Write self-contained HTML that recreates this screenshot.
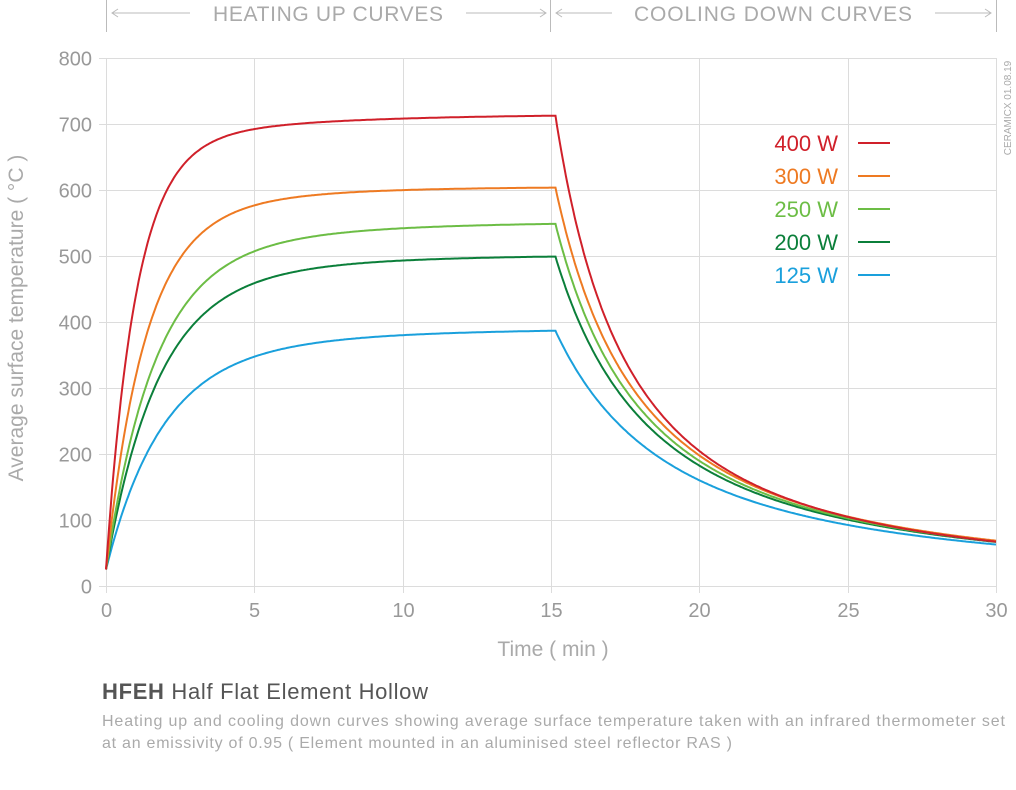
<!DOCTYPE html>
<html><head><meta charset="utf-8"><style>
body{margin:0;background:#fff;width:1016px;height:785px;overflow:hidden;font-family:"Liberation Sans",sans-serif}
svg text{font-family:"Liberation Sans",sans-serif}
</style></head><body>
<svg id="s" width="1016" height="785" xmlns="http://www.w3.org/2000/svg">
<g stroke="#bbb" stroke-width="1" fill="none">
<line x1="106.5" y1="0" x2="106.5" y2="32"/><line x1="550.5" y1="0" x2="550.5" y2="32"/><line x1="996.5" y1="0" x2="996.5" y2="32"/>
<line x1="112" y1="13" x2="190" y2="13"/><polyline points="118,9 112,13 118,17"/>
<line x1="466" y1="13" x2="546" y2="13"/><polyline points="540,9 546,13 540,17"/>
<line x1="556" y1="13" x2="612" y2="13"/><polyline points="562,9 556,13 562,17"/>
<line x1="935" y1="13" x2="991" y2="13"/><polyline points="985,9 991,13 985,17"/>
</g>
<text x="328" y="21" font-size="21" fill="#aaa" text-anchor="middle" textLength="230">HEATING UP CURVES</text>
<text x="773" y="21" font-size="21" fill="#aaa" text-anchor="middle" textLength="278">COOLING DOWN CURVES</text>
<g id="grid" stroke="#dcdcdc" stroke-width="1"></g>
<g id="lab" font-size="20" fill="#999"></g>
<text transform="translate(23,318) rotate(-90)" font-size="21" fill="#aaa" text-anchor="middle">Average surface temperature ( °C )</text>
<text x="553" y="656" font-size="21" fill="#aaa" text-anchor="middle">Time ( min )</text>
<text transform="translate(1011,108) rotate(-90)" font-size="10" fill="#aaa" text-anchor="middle">CERAMICX 01.08.19</text>
<g id="curves" fill="none" stroke-width="2"></g>
<g font-size="22" text-anchor="end">
<text x="838" y="151" fill="#d0202a">400 W</text>
<text x="838" y="184" fill="#ee7a22">300 W</text>
<text x="838" y="217" fill="#6cbd45">250 W</text>
<text x="838" y="250" fill="#0b7f3a">200 W</text>
<text x="838" y="283" fill="#1aa0dc">125 W</text>
</g>
<g stroke-width="2">
<line x1="858" y1="143" x2="890" y2="143" stroke="#d0202a"/>
<line x1="858" y1="176" x2="890" y2="176" stroke="#ee7a22"/>
<line x1="858" y1="209" x2="890" y2="209" stroke="#6cbd45"/>
<line x1="858" y1="242" x2="890" y2="242" stroke="#0b7f3a"/>
<line x1="858" y1="275" x2="890" y2="275" stroke="#1aa0dc"/>
</g>
<text x="102" y="699" font-size="22" fill="#555" textLength="326"><tspan font-weight="bold">HFEH</tspan> Half Flat Element Hollow</text>
<text x="102" y="726" font-size="16" fill="#aaa" textLength="903">Heating up and cooling down curves showing average surface temperature taken with an infrared thermometer set</text>
<text x="102" y="748" font-size="16" fill="#aaa" textLength="630">at an emissivity of 0.95  ( Element mounted in an aluminised steel reflector RAS )</text>
</svg>
<script>
var NS="http://www.w3.org/2000/svg";
function X(t){return 106+t*29.667}function Y(v){return 586-v*0.66}
var g=document.getElementById('grid'),l=document.getElementById('lab'),c=document.getElementById('curves');
function el(p,tag,a,txt){var e=document.createElementNS(NS,tag);for(var k in a)e.setAttribute(k,a[k]);if(txt!=null)e.textContent=txt;p.appendChild(e);}
for(var v=0;v<=800;v+=100){var y=Math.round(Y(v))+.5;el(g,'line',{x1:99,x2:996,y1:y,y2:y});el(l,'text',{x:92,y:y+7,'text-anchor':'end'},v);}
for(var t=0;t<=30;t+=5){var x=Math.round(X(t))+.5;el(g,'line',{x1:x,x2:x,y1:58,y2:593});el(l,'text',{x:x,y:617,'text-anchor':'middle'},t);}
var S=[
["#1aa0dc",300,1.8,65,5,5.9],
["#0b7f3a",420,1.7,57,5,4.95],
["#6cbd45",460,1.6,67,5,4.6],
["#ee7a22",520,1.3,60,4,4.3],
["#d0202a",640,1.0,50,5,3.66]];
S.forEach(function(s){
 var pts=[],T15;
 function H(t){return 25+s[1]*(1-Math.exp(-t/s[2]))+s[3]*(1-Math.exp(-t/s[4]));}
 T15=H(15);
 for(var t=0;t<=15;t+=0.05)pts.push([t,H(t)]);
 for(var t=15.05;t<=30.001;t+=0.05){var d=Math.max(0,t-15.15);var amb=5;pts.push([t,amb+(T15-amb)*Math.pow(1+d/s[5],-1.5)]);}
 el(c,'path',{stroke:s[0],d:'M'+pts.map(function(p){return X(p[0]).toFixed(1)+','+Y(p[1]).toFixed(1)}).join('L')});
});
</script>
</body></html>
